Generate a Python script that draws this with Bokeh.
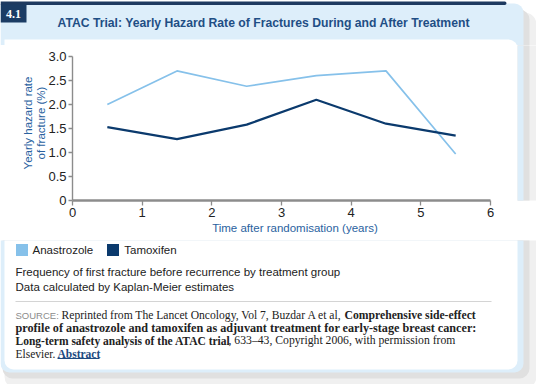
from bokeh.plotting import figure
from bokeh.layouts import column, row
from bokeh.models import (Range1d, FixedTicker, Label, BoxAnnotation, Legend,
                          LegendItem, ColumnDataSource)
from bokeh.embed import file_html
from bokeh.resources import INLINE

# ---------------- data ----------------
years = [0.5, 1.5, 2.5, 3.5, 4.5, 5.5]
anastrozole = [2.0, 2.7, 2.38, 2.6, 2.7, 0.97]
tamoxifen = [1.53, 1.28, 1.58, 2.1, 1.6, 1.35]
series_names = ["Anastrozole", "Tamoxifen"]
x_ticks = [0, 1, 2, 3, 4, 5, 6]
y_ticks = [0, 0.5, 1, 1.5, 2, 2.5, 3]
y_tick_labels = ["0", "0.5", "1.0", "1.5", "2.0", "2.5", "3.0"]
x_bounds = (0, 6)
y_bounds = (0, 3)

title_text = "ATAC Trial: Yearly Hazard Rate of Fractures During and After Treatment"
x_title = "Time after randomisation (years)"
y_title = "Yearly hazard rate\nof fracture (%)"
note_lines = ["Frequency of first fracture before recurrence by treatment group",
              "Data calculated by Kaplan-Meier estimates"]

# ---------------- styles ----------------
LIGHT = "#86c1ea"
NAVY = "#0b3a6d"
CARD = "#ddeefa"
SH1 = "#e0e0e0"
SH2 = "#f0f0f0"
TITLE_C = "#1f4e85"
AXT_C = "#2a62a0"
SANS = "Liberation Sans"
SERIF = "Liberation Serif"

# page pixel layout
X0, X1 = 0, 536
HY0, HY1 = 0, 45      # header strip
BY0, BY1 = 45, 240    # chart strip
FY0, FY1 = 240, 384   # footer strip
BX1 = 517             # chart figure right edge (card strip to the right)
PLOT_L, PLOT_R, PLOT_T, PLOT_B = 72, 490, 56, 200
PX_X = (PLOT_R - PLOT_L) / (x_bounds[1] - x_bounds[0])
PX_Y = (PLOT_B - PLOT_T) / (y_bounds[1] - y_bounds[0])


def deco_fig(x0, x1, y0, y1):
    return figure(width=x1 - x0, height=y1 - y0, output_backend="svg",
                  toolbar_location=None, x_range=Range1d(x0, x1),
                  y_range=Range1d(y1, y0), x_axis_type=None, y_axis_type=None,
                  min_border=0, outline_line_color=None,
                  background_fill_color="white", border_fill_color="white")


def box(f, x0, y0, x1, y1, color, radius=0):
    f.add_layout(BoxAnnotation(left=x0, right=x1, top=y0, bottom=y1,
                               fill_color=color, fill_alpha=1.0, line_color=None,
                               border_radius=radius, level="underlay"))


def label(f, X, Y, text, size="11.5px", color="#222222", font=SANS,
          style="normal", align="left"):
    f.add_layout(Label(x=X, y=Y, text=text, text_font_size=size,
                       text_color=color, text_font=font, text_font_style=style,
                       text_align=align, text_baseline="middle"))


def card_layers(f, radius_card, radius_white):
    box(f, 4, 12, 536, 388, SH2, 12)
    box(f, 2, 9, 529, 378, SH1, 10)
    box(f, 0, 3, 523, 372, CARD, radius_card)
    box(f, 4, 39, 517, 369, "white", radius_white)


# ---------------- header ----------------
h = deco_fig(X0, X1, HY0, HY1)
card_layers(h, (0, 9, 0, 0), (0, 9, 0, 0))
box(h, 0, 1, 506, 4.5, "#1e3a60", (0, 2, 2, 0))
box(h, 0, 4, 26, 22, "#1b3c64")
label(h, 13, 13.5, "4.1", size="12px", color="white", font=SERIF,
      style="bold", align="center")
label(h, 57, 22.5, title_text, size="12.2px", color=TITLE_C, style="bold")

# ---------------- chart ----------------
p = figure(width=BX1 - X0, height=BY1 - BY0, output_backend="svg",
           toolbar_location=None,
           x_range=Range1d(x_bounds[0], x_bounds[0] + (BX1 - PLOT_L) / PX_X),
           y_range=Range1d(y_bounds[0], y_bounds[0] + (PLOT_B - BY0) / PX_Y),
           min_border_left=PLOT_L - X0, min_border_right=0,
           min_border_top=0, min_border_bottom=BY1 - PLOT_B,
           background_fill_color="white", border_fill_color="white",
           outline_line_color=None)
p.line(years, anastrozole, line_color=LIGHT, line_width=1.7)
p.line(years, tamoxifen, line_color=NAVY, line_width=2.2)

p.xgrid.visible = False
p.ygrid.visible = False
p.xaxis.ticker = FixedTicker(ticks=x_ticks)
p.yaxis.ticker = FixedTicker(ticks=y_ticks)
p.xaxis.bounds = x_bounds
p.yaxis.bounds = y_bounds
p.yaxis.major_label_overrides = dict(zip(y_ticks, y_tick_labels))
for ax in (p.xaxis[0], p.yaxis[0]):
    ax.axis_line_color = "#8c8c8c"
    ax.major_tick_line_color = "#8c8c8c"
    ax.major_tick_line_width = 1.3
    ax.major_tick_in = 0
    ax.minor_tick_line_color = None
    ax.major_label_text_font = SANS
    ax.major_label_text_font_size = "13px"
    ax.major_label_text_color = "#222222"
    ax.axis_label_text_font = SANS
    ax.axis_label_text_font_size = "11.5px"
    ax.axis_label_text_font_style = "normal"
    ax.axis_label_text_color = AXT_C
p.xaxis.axis_line_width = 2.5
p.xaxis.major_tick_out = 5
p.xaxis.major_label_standoff = 2
p.xaxis.axis_label = x_title
p.xaxis.axis_label_standoff = 2
p.yaxis.axis_line_width = 1.4
p.yaxis.major_tick_out = 4
p.yaxis.major_label_standoff = 2
p.yaxis.axis_label = y_title
p.yaxis.axis_label_standoff = -2
p.yaxis.axis_label_text_line_height = 1.12

# right card edge beside the chart
r = deco_fig(BX1, X1, BY0, BY1)
card_layers(r, 0, 0)

# ---------------- footer ----------------
f = deco_fig(X0, X1, FY0, FY1)
card_layers(f, (0, 0, 9, 9), (0, 0, 9, 9))

# legend swatches: renderers whose single square lies off-canvas
off = dict(left=[-60], right=[-50], top=[-60], bottom=[-50])
r_a = f.quad(source=ColumnDataSource(off), left="left", right="right",
             top="top", bottom="bottom", fill_color=LIGHT, line_color=None)
r_t = f.quad(source=ColumnDataSource(dict(off)), left="left", right="right",
             top="top", bottom="bottom", fill_color=NAVY, line_color=None)
legend = Legend(items=[LegendItem(label=series_names[0], renderers=[r_a]),
                       LegendItem(label=series_names[1], renderers=[r_t])],
                orientation="horizontal",
                location=(13.5 - X0, FY1 - 242 - 15),
                glyph_width=15, glyph_height=15, label_standoff=4, spacing=12,
                padding=0, margin=0, border_line_color=None,
                background_fill_alpha=0, label_text_font=SANS,
                label_text_font_size="11.5px", label_text_color="#222222")
f.add_layout(legend)

label(f, 15, 271.5, note_lines[0])
label(f, 15, 286, note_lines[1])
box(f, 15, 300.5, 491, 301.5, "#d4d4d4")

label(f, 15, 315, "SOURCE:", size="9.5px", color="#8c8c8c")
label(f, 61, 315, "Reprinted from The Lancet Oncology, Vol 7, Buzdar A et al,",
      size="11.6px", font=SERIF)
label(f, 344, 315, "Comprehensive side-effect", size="11.7px", font=SERIF,
      style="bold")
label(f, 15, 327.7, "profile of anastrozole and tamoxifen as adjuvant treatment "
      "for early-stage breast cancer:", size="12.2px", font=SERIF, style="bold")
label(f, 15, 340.3, "Long-term safety analysis of the ATAC trial", size="11.5px",
      font=SERIF, style="bold")
label(f, 228, 340.3, ", 633\u201343, Copyright 2006, with permission from",
      size="11.7px", font=SERIF)
label(f, 15, 353, "Elsevier.", size="11.5px", font=SERIF)
label(f, 57, 353, "Abstract", size="11.5px", font=SERIF, style="bold",
      color="#1d4a80")
box(f, 57, 357.5, 99, 358.5, "#1d4a80")

layout = column(h, row(p, r), f)
open("out.html", "w").write(file_html(layout, INLINE))
